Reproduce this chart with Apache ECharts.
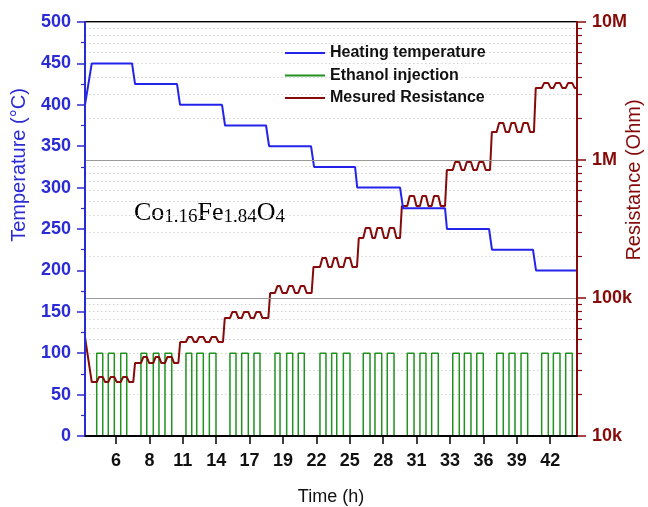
<!DOCTYPE html>
<html>
<head>
<meta charset="utf-8">
<script src="https://cdn.jsdelivr.net/npm/echarts@6/dist/echarts.min.js"></script>
<style>html,body{margin:0;padding:0;background:#fff;}#c{width:648px;height:507px;}</style>
</head>
<body>
<div id="c"></div>
<script>
// ---- data ----
const timeTickLabels = ['6','8','11','14','17','19','22','25','28','31','33','36','39','42'];
const timeMin = 3.43, timeMax = 44.22;

// heating temperature (time h, °C)
const tempTime  = [3.43, 3.99, 7.33, 7.58, 11.06, 11.31, 14.79, 15.04, 18.44, 18.69, 22.17, 22.42, 25.82, 26.00, 29.55, 29.80, 33.28, 33.44, 36.93, 37.17, 40.57, 40.82, 44.22];
const tempValue = [400, 450, 450, 425, 425, 400, 400, 375, 375, 350, 350, 325, 325, 300, 300, 275, 275, 250, 250, 225, 225, 200, 200];

// ethanol injection pulses (on / off times, h)
const pulseOn  = [4.40, 5.36, 6.39, 8.07, 9.09, 10.06, 11.80, 12.69, 13.74, 15.45, 16.42, 17.44, 19.18, 20.15, 21.11, 22.91, 23.88, 24.85, 26.50, 27.47, 28.49, 30.15, 31.20, 32.17, 33.92, 34.88, 35.91, 37.56, 38.58, 39.58, 41.29, 42.26, 43.28];
const pulseOff = [4.90, 5.86, 6.89, 8.55, 9.56, 10.62, 12.28, 13.24, 14.29, 15.95, 16.97, 17.94, 19.60, 20.65, 21.61, 23.41, 24.30, 25.40, 27.06, 28.03, 29.05, 30.71, 31.70, 32.72, 34.46, 35.43, 36.45, 38.11, 39.08, 40.13, 41.84, 42.81, 43.83];
const pulseLevel = 100;

// measured resistance (Ohm): start point, level change times, baseline and peak per level
const resStartValue = 52e3;
const resStepTime = [3.84, 7.43, 11.17, 14.87, 18.63, 22.22, 25.98, 29.55, 33.28, 37.01, 40.65];
const resLow  = [24.6e3, 33.8e3, 48.0e3, 71.6e3, 108.7e3, 167.8e3, 272e3, 464e3, 846e3, 1.595e6, 3.32e6];
const resHigh = [26.8e3, 37.4e3, 52.2e3, 79.2e3, 122e3, 195e3, 321.6e3, 548e3, 967e3, 1.854e6, 3.61e6];

const resMinorValues = [2e4,3e4,4e4,5e4,6e4,7e4,8e4,9e4, 2e5,3e5,4e5,5e5,6e5,7e5,8e5,9e5, 2e6,3e6,4e6,5e6,6e6,7e6,8e6,9e6];

// ---- build series ----
const tickHours = timeTickLabels.map((_, i) => 6 + i * 36 / 13);
const tempData = tempTime.map((t, i) => [t, tempValue[i]]);

const pulseData = [[timeMin, 0]];
pulseOn.forEach((t, i) => {
  pulseData.push([t, 0], [t, pulseLevel], [pulseOff[i], pulseLevel], [pulseOff[i], 0]);
});
pulseData.push([timeMax, 0]);

const resData = [[timeMin, resStartValue]];
resStepTime.forEach((t, i) => {
  if (i > 0) resData.push([t, resLow[i - 1]]);
  resData.push([t + 0.15, resLow[i]]);
  for (let j = 3 * i; j < 3 * i + 3; j++) {
    resData.push([pulseOn[j], resLow[i]], [pulseOn[j] + 0.2, resHigh[i]], [pulseOff[j], resHigh[i]], [pulseOff[j] + 0.2, resLow[i]]);
  }
});
resData.push([timeMax, resLow[resLow.length - 1]]);

const FONT = "'Liberation Sans', Arial, sans-serif";
const SERIF = "'Liberation Serif', 'Times New Roman', serif";
const BLUE = '#2b2bd6', LINEBLUE = '#2323ec', RED = '#860a0a', GREEN = '#1f921f';

const chart = echarts.init(document.getElementById('c'), null, {renderer: 'canvas'});
chart.setOption({
  animation: false,
  backgroundColor: '#fff',
  grid: {left: 85, right: 71, top: 22, bottom: 71, containLabel: false, outerBoundsMode: 'none',
    show: true, borderColor: '#000', borderWidth: 2, backgroundColor: 'transparent'},
  legend: {
    orient: 'vertical', left: 280, top: 37, icon: 'rect', itemWidth: 40, itemHeight: 2, itemGap: 0.5,
    textStyle: {fontFamily: FONT, fontSize: 16, fontWeight: 'bold', color: '#111', lineHeight: 22},
    data: ['Heating temperature', 'Ethanol injection', 'Mesured Resistance']
  },
  xAxis: {
    type: 'value', min: timeMin, max: timeMax, z: 5,
    name: 'Time (h)', nameLocation: 'middle', nameGap: 52,
    nameTextStyle: {fontFamily: FONT, fontSize: 18, color: '#111'},
    axisLine: {show: true, lineStyle: {color: '#000', width: 2}},
    axisTick: {show: true, length: 8, customValues: tickHours, lineStyle: {color: '#000', width: 1.5}},
    axisLabel: {customValues: tickHours, margin: 16, fontFamily: FONT, fontSize: 18, fontWeight: 'bold', color: '#111',
      formatter: v => { const k = tickHours.findIndex(t => Math.abs(t - v) < 1e-6); return k >= 0 ? timeTickLabels[k] : ''; }},
    splitLine: {show: false}
  },
  yAxis: [
    {
      type: 'value', min: 0, max: 500, interval: 50, position: 'left', z: 5,
      axisLine: {show: true, lineStyle: {color: BLUE, width: 2}},
      axisTick: {show: true, length: 8, lineStyle: {color: BLUE, width: 1.5}},
      minorTick: {show: true, splitNumber: 2, length: 4, lineStyle: {color: BLUE, width: 1.2}},
      axisLabel: {margin: 14, fontFamily: FONT, fontSize: 18, fontWeight: 'bold', color: BLUE},
      splitLine: {show: false}
    },
    {
      type: 'log', logBase: 10, min: 1e4, max: 1e7, position: 'right', z: 5,
      axisLine: {show: true, lineStyle: {color: RED, width: 2}},
      axisTick: {show: true, length: 9, lineStyle: {color: RED, width: 1.5}},
      axisLabel: {margin: 15, fontFamily: FONT, fontSize: 18, fontWeight: 'bold', color: RED,
        formatter: v => v >= 1e6 ? Math.round(v / 1e6) + 'M' : Math.round(v / 1e3) + 'k'},
      splitLine: {show: true, lineStyle: {color: '#9a9a9a', width: 1.2}}
    },
    {
      type: 'log', logBase: 10, min: 1e4, max: 1e7, position: 'right', z: 5,
      axisLine: {show: false},
      axisTick: {show: true, length: 5, customValues: resMinorValues, lineStyle: {color: RED, width: 1.2}},
      axisLabel: {show: false},
      splitLine: {show: false}
    }
  ],
  graphic: [
    {type: 'text', x: 19, y: 165, rotation: Math.PI / 2, style: {text: 'Temperature (°C)', fontFamily: FONT, fontSize: 20, fill: BLUE, align: 'center', verticalAlign: 'middle'}},
    {type: 'text', x: 634, y: 180, rotation: Math.PI / 2, style: {text: 'Resistance (Ohm)', fontFamily: FONT, fontSize: 20, fill: RED, align: 'center', verticalAlign: 'middle'}},
    {type: 'text', x: 134, y: 212, style: {
      text: '{m|Co}{s|1.16}{m|Fe}{s|1.84}{m|O}{s|4}', align: 'left', verticalAlign: 'middle',
      rich: {
        m: {fontFamily: SERIF, fontSize: 26, fill: '#000', lineHeight: 29, verticalAlign: 'bottom'},
        s: {fontFamily: SERIF, fontSize: 19, fill: '#000', lineHeight: 19, verticalAlign: 'bottom'}
      }}}
  ],
  series: [
    {name: 'Heating temperature', type: 'line', yAxisIndex: 0, data: tempData, showSymbol: false, z: 4,
      itemStyle: {color: LINEBLUE}, lineStyle: {color: LINEBLUE, width: 2}},
    {name: 'Ethanol injection', type: 'line', yAxisIndex: 0, data: pulseData, showSymbol: false, z: 2,
      itemStyle: {color: GREEN}, lineStyle: {color: GREEN, width: 1.5}},
    {name: 'Mesured Resistance', type: 'line', yAxisIndex: 1, data: resData, showSymbol: false, z: 3,
      itemStyle: {color: RED}, lineStyle: {color: RED, width: 2},
      markLine: {silent: true, symbol: 'none', label: {show: false}, z: 1,
        lineStyle: {color: '#d2d2d2', width: 1, type: [1.5, 2.5]},
        data: resMinorValues.map(v => ({yAxis: v}))}}
  ]
});
</script>
</body>
</html>
